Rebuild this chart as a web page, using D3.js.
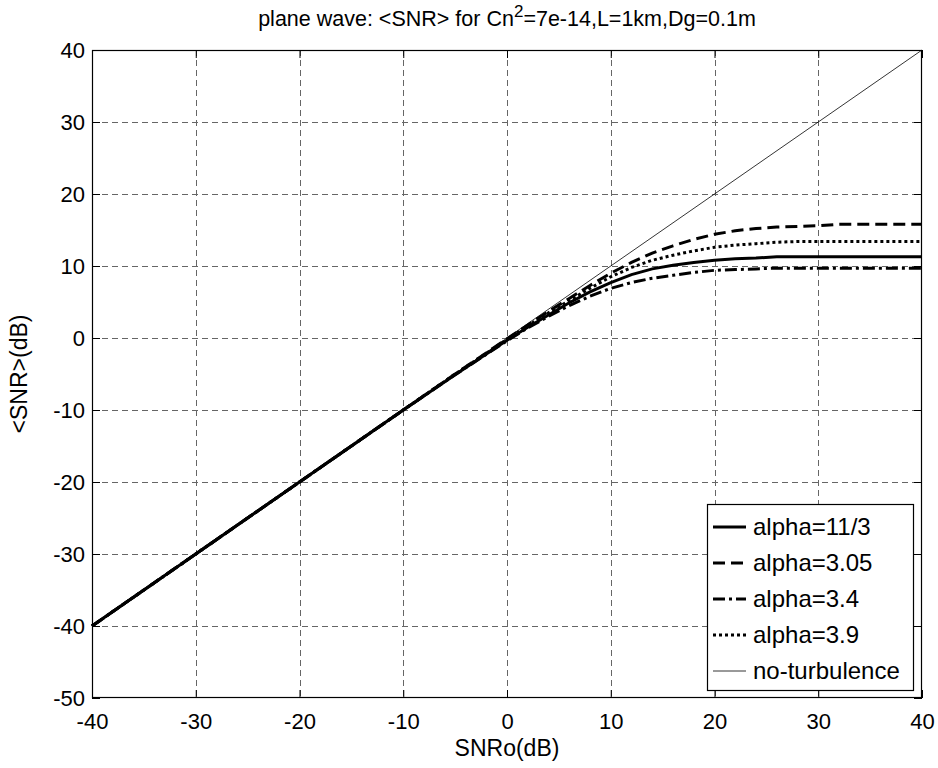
<!DOCTYPE html>
<html><head><meta charset="utf-8">
<script src="https://cdn.jsdelivr.net/npm/d3@7"></script>
<style>
html,body{margin:0;padding:0;background:#fff;}
text{font-family:"Liberation Sans",Arial,sans-serif;fill:#000;}
</style></head>
<body><svg id="chart" width="938" height="768"></svg>
<script>
// ---- data ----
const xTicks = [-40,-30,-20,-10,0,10,20,30,40];
const yTicks = [-50,-40,-30,-20,-10,0,10,20,30,40];
const snr0 = [-40,-30,-20,-10,-5,0,2,4,6,8,10,12,14,16,18,20,22,24,26,28,30,32,35,40];
const alpha113 = [-40,-30,-20,-10,-5.1,-0.3,1.5,3.2,4.9,6.4,7.7,8.8,9.6,10.1,10.5,10.8,11.0,11.1,11.3,11.3,11.3,11.3,11.3,11.3];
const alpha305 = [-40,-30,-20,-10,-5,-0.1,1.8,3.7,5.5,7.3,9.0,10.5,11.8,12.8,13.7,14.4,14.9,15.2,15.4,15.5,15.6,15.8,15.8,15.8];
const alpha34  = [-40,-30,-20,-10,-5.1,-0.4,1.4,3.0,4.5,5.8,6.9,7.7,8.3,8.7,9.1,9.4,9.5,9.6,9.7,9.7,9.7,9.7,9.7,9.7];
const alpha39  = [-40,-30,-20,-10,-5,-0.2,1.7,3.5,5.2,6.9,8.5,9.8,10.8,11.5,12.1,12.6,12.9,13.1,13.3,13.4,13.4,13.4,13.4,13.4];
const noTurbX = [-40,40];
const noTurbY = [-40,40];
const seriesNames = ["alpha=11/3","alpha=3.05","alpha=3.4","alpha=3.9","no-turbulence"];
const titleMain = "plane wave: <SNR> for Cn";
const titleSup = "2";
const titleRest = "=7e-14,L=1km,Dg=0.1m";
const xLabel = "SNRo(dB)";
const yLabel = "<SNR>(dB)";

// ---- layout ----
const L = 92, R = 922, T = 50, B = 698;
const svg = d3.select("#chart");
const x = d3.scaleLinear().domain([-40,40]).range([L,R]);
const y = d3.scaleLinear().domain([-50,40]).range([B,T]);
const fmt = d => String(d);

// grid
const grid = svg.append("g").attr("stroke","#666").attr("stroke-width",1).attr("stroke-dasharray","6,4").attr("shape-rendering","crispEdges");
xTicks.slice(1,-1).forEach(t=>grid.append("line").attr("x1",Math.round(x(t))+0.5).attr("x2",Math.round(x(t))+0.5).attr("y1",T).attr("y2",B));
yTicks.slice(1,-1).forEach(t=>grid.append("line").attr("y1",Math.round(y(t))+0.5).attr("y2",Math.round(y(t))+0.5).attr("x1",L).attr("x2",R));

// axes (ticks inward)
const tl = 8;
const axB = svg.append("g").attr("transform",`translate(0,${B})`).call(d3.axisBottom(x).tickValues(xTicks).tickSize(-tl).tickPadding(15).tickFormat(fmt));
const axT = svg.append("g").attr("transform",`translate(0,${T})`).call(d3.axisTop(x).tickValues(xTicks).tickSize(-tl).tickFormat(""));
const axL = svg.append("g").attr("transform",`translate(${L},0)`).call(d3.axisLeft(y).tickValues(yTicks).tickSize(-tl).tickPadding(7).tickFormat(fmt));
const axR = svg.append("g").attr("transform",`translate(${R},0)`).call(d3.axisRight(y).tickValues(yTicks).tickSize(-tl).tickFormat(""));
[axB,axT,axL,axR].forEach(a=>{
  a.select(".domain").remove();
  a.selectAll("line").attr("stroke","#000").attr("stroke-width",1);
  a.selectAll("text").attr("font-size",22).attr("font-family","Liberation Sans, Arial, sans-serif").attr("fill","#000");
});
axB.selectAll("text").attr("dy","0.71em");

// curves
const mk = (xs,ys)=>xs.map((v,i)=>[v,ys[i]]);
const line = d3.line().x(d=>x(d[0])).y(d=>y(d[1]));
const series = [
  {name:seriesNames[0], data:mk(snr0,alpha113), w:3, dash:null},
  {name:seriesNames[1], data:mk(snr0,alpha305), w:3, dash:"12,6"},
  {name:seriesNames[2], data:mk(snr0,alpha34),  w:3, dash:"12,4,3,4"},
  {name:seriesNames[3], data:mk(snr0,alpha39),  w:3, dash:"3,3"},
  {name:seriesNames[4], data:mk(noTurbX,noTurbY), w:0.8, dash:null}
];
const plot = svg.append("g");
series.forEach(s=>{
  plot.append("path").datum(s.data).attr("d",line).attr("fill","none").attr("stroke","#000")
    .attr("stroke-width",s.w).attr("stroke-dasharray",s.dash);
});

// box
svg.append("rect").attr("x",L+0.5).attr("y",T+0.5).attr("width",R-L-1).attr("height",B-T-1)
  .attr("fill","none").attr("stroke","#000").attr("stroke-width",1.2);

// legend
const lg = svg.append("g");
const lx0 = 707, ly0 = 504, lw = 206, lh = 186;
lg.append("rect").attr("x",lx0+0.5).attr("y",ly0+0.5).attr("width",lw).attr("height",lh)
  .attr("fill","#fff").attr("stroke","#000").attr("stroke-width",1.2);
series.forEach((s,i)=>{
  const yy = 527 + i*36;
  lg.append("line").attr("x1",713).attr("x2",746).attr("y1",yy).attr("y2",yy)
    .attr("stroke","#000").attr("stroke-width",s.w).attr("stroke-dasharray",s.dash);
  lg.append("text").attr("x",753).attr("y",yy).attr("dy","0.35em").attr("font-size",24).text(s.name);
});

// title
const tt = svg.append("text").attr("x",(L+R)/2).attr("y",26).attr("text-anchor","middle").attr("font-size",21.5);
tt.append("tspan").text(titleMain);
tt.append("tspan").attr("dy",-9).attr("font-size",17).text(titleSup);
tt.append("tspan").attr("dy",9).text(titleRest);

// axis labels
svg.append("text").attr("x",(L+R)/2).attr("y",756).attr("text-anchor","middle").attr("font-size",23).text(xLabel);
svg.append("text").attr("transform",`translate(27,${(T+B)/2}) rotate(-90)`).attr("text-anchor","middle").attr("font-size",23).text(yLabel);
</script></body></html>
